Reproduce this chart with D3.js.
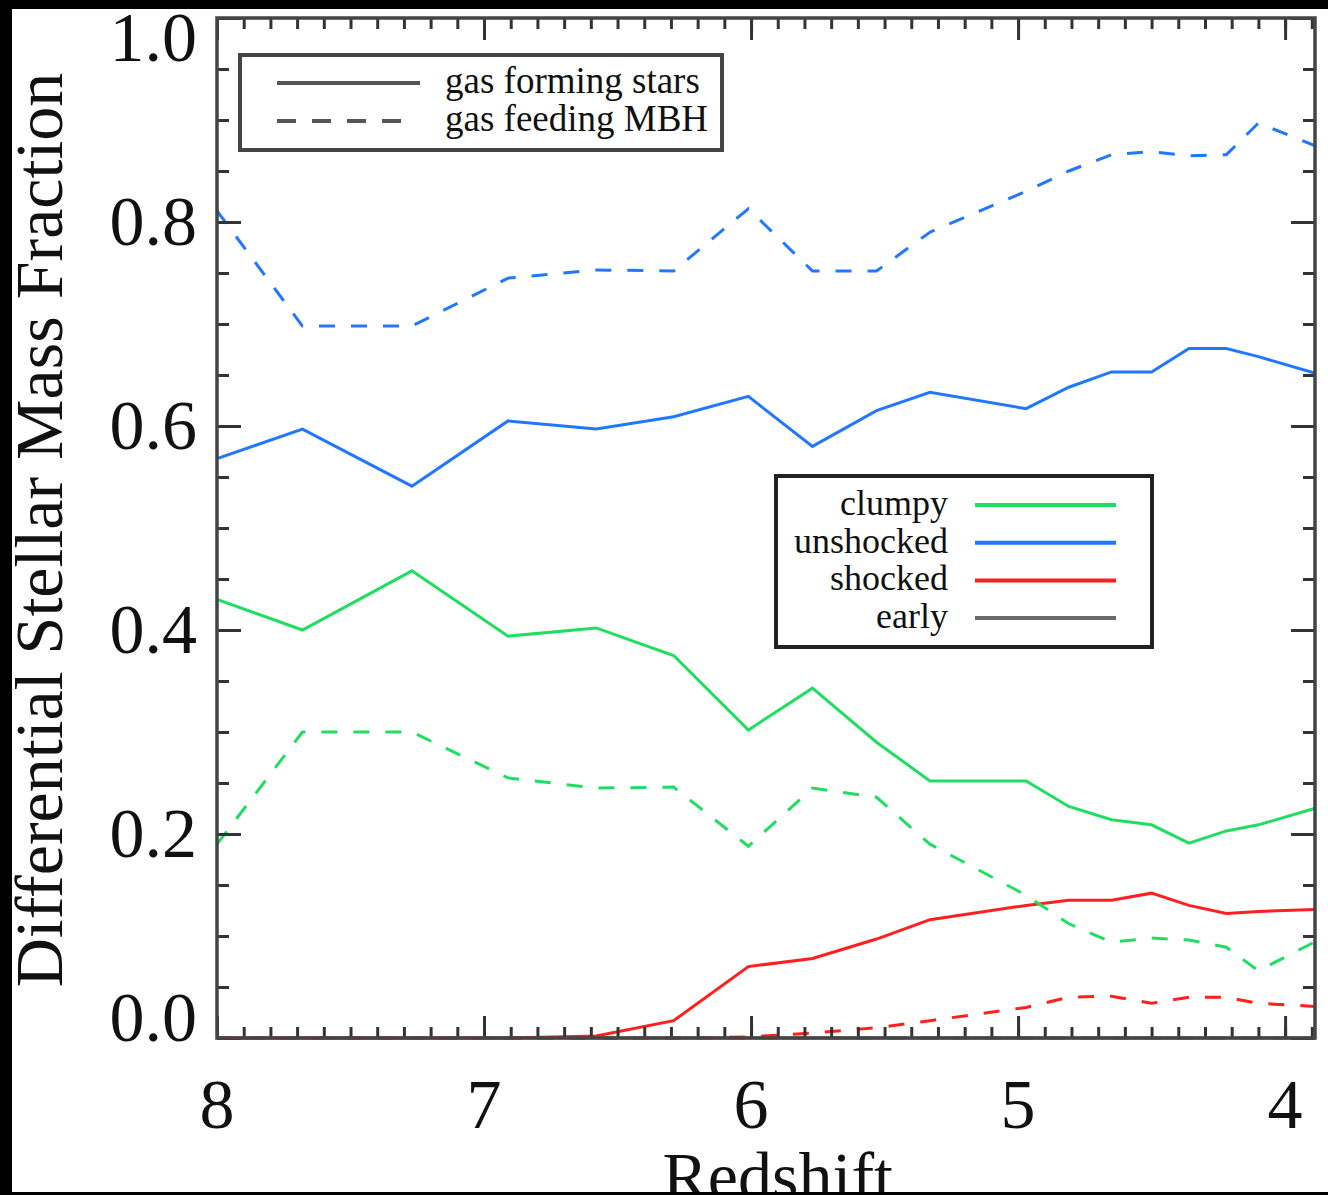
<!DOCTYPE html>
<html>
<head>
<meta charset="utf-8">
<script src="https://cdn.jsdelivr.net/npm/d3@7"></script>
<style>
    html, body { margin: 0; padding: 0; background: #000; }
    svg { display: block; }
    text { font-family: "Liberation Serif", "DejaVu Serif", serif; fill: #111; }
</style>
</head>
<body>
<div id="chart"></div>
<script>
// redshift of each snapshot
var redshift = [8.0, 7.68, 7.27, 6.91, 6.58, 6.29, 6.01, 5.77, 5.53, 5.33, 4.97, 4.81, 4.65, 4.50, 4.36, 4.22, 4.10, 3.89];

var clumpyStars    = [0.430, 0.400, 0.458, 0.394, 0.402, 0.375, 0.302, 0.343, 0.290, 0.252, 0.252, 0.227, 0.214, 0.209, 0.191, 0.203, 0.209, 0.225];
var clumpyMBH      = [0.190, 0.300, 0.300, 0.255, 0.245, 0.246, 0.188, 0.245, 0.236, 0.190, 0.140, 0.112, 0.094, 0.098, 0.096, 0.089, 0.066, 0.094];
var unshockedStars = [0.568, 0.597, 0.541, 0.605, 0.597, 0.609, 0.629, 0.580, 0.615, 0.633, 0.617, 0.638, 0.653, 0.653, 0.676, 0.676, 0.668, 0.652];
var unshockedMBH   = [0.811, 0.698, 0.698, 0.745, 0.753, 0.752, 0.813, 0.752, 0.752, 0.790, 0.830, 0.850, 0.866, 0.869, 0.865, 0.866, 0.897, 0.875];
var shockedStars   = [0, 0, 0, 0, 0.002, 0.017, 0.070, 0.078, 0.097, 0.116, 0.130, 0.135, 0.135, 0.142, 0.130, 0.122, 0.124, 0.126];
var shockedMBH     = [0, 0, 0, 0, 0, 0, 0.001, 0.005, 0.010, 0.017, 0.030, 0.040, 0.041, 0.034, 0.040, 0.040, 0.034, 0.031];
var earlyStars     = [0, 0, 0, 0, 0, 0, 0, 0, 0, 0, 0, 0, 0, 0, 0, 0, 0, 0];
var earlyMBH       = [0, 0, 0, 0, 0, 0, 0, 0, 0, 0, 0, 0, 0, 0, 0, 0, 0, 0];

var components = ["clumpy", "unshocked", "shocked", "early"];
var colours = {clumpy: "#20de62", unshocked: "#2277ff", shocked: "#ff1f1f", early: "#6a6a6a"};
var gasKinds = ["gas forming stars", "gas feeding MBH"];

var xMajor = [8, 7, 6, 5, 4];
var yMajor = [0.0, 0.2, 0.4, 0.6, 0.8, 1.0];
var xLabel = "Redshift";
var yLabel = "Differential Stellar Mass Fraction";

var W = 1328, H = 1195;
var margin = {top: 18, left: 217, right: 13, bottom: 157};
var width = W - margin.left - margin.right,
    height = H - margin.top - margin.bottom;

var svg = d3.select("#chart")
        .append("svg")
        .attr("width", W)
        .attr("height", H);

svg.append("rect")
        .attr("width", W).attr("height", H)
        .attr("fill", "white");

var g = svg.append("g")
        .attr("transform", "translate(" + margin.left + "," + margin.top + ")");

var x = d3.scaleLinear().domain([8, 3.888]).range([0, width]);
var y = d3.scaleLinear().domain([0, 1]).range([height, 0]);

var xMinor = d3.range(80, 38, -1).map(function(d){ return d / 10; });
var yMinor = d3.range(0, 21).map(function(d){ return d / 20; });

var series = [
    {name: "early", values: earlyStars, dashed: false},
    {name: "early", values: earlyMBH, dashed: true},
    {name: "shocked", values: shockedStars, dashed: false},
    {name: "shocked", values: shockedMBH, dashed: true},
    {name: "unshocked", values: unshockedStars, dashed: false},
    {name: "unshocked", values: unshockedMBH, dashed: true},
    {name: "clumpy", values: clumpyStars, dashed: false},
    {name: "clumpy", values: clumpyMBH, dashed: true}
];

var line = d3.line()
        .x(function(d, i){ return x(redshift[i]); })
        .y(function(d){ return y(d); });

g.selectAll("path.series")
        .data(series)
        .enter()
        .append("path")
        .attr("class", "series")
        .attr("d", function(d){ return line(d.values); })
        .attr("fill", "none")
        .attr("stroke", function(d){ return colours[d.name]; })
        .attr("stroke-width", 3)
        .attr("stroke-dasharray", function(d){ return d.dashed ? "16,16" : null; });

// axes: ticks point inward on all four sides
function styleAxis(sel){
    sel.select(".domain").remove();
    sel.selectAll("line").attr("stroke", "#333").attr("stroke-width", 3);
    sel.selectAll("text").remove();
}

g.append("g").attr("transform", "translate(0," + height + ")")
        .call(d3.axisBottom(x).tickValues(xMinor).tickSize(-11)).call(styleAxis);
g.append("g").attr("transform", "translate(0," + height + ")")
        .call(d3.axisBottom(x).tickValues(xMajor).tickSize(-22)).call(styleAxis);
g.append("g")
        .call(d3.axisTop(x).tickValues(xMinor).tickSize(-11)).call(styleAxis);
g.append("g")
        .call(d3.axisTop(x).tickValues(xMajor).tickSize(-22)).call(styleAxis);
g.append("g")
        .call(d3.axisLeft(y).tickValues(yMinor).tickSize(-12)).call(styleAxis);
g.append("g")
        .call(d3.axisLeft(y).tickValues(yMajor).tickSize(-24)).call(styleAxis);
g.append("g").attr("transform", "translate(" + width + ",0)")
        .call(d3.axisRight(y).tickValues(yMinor).tickSize(-12)).call(styleAxis);
g.append("g").attr("transform", "translate(" + width + ",0)")
        .call(d3.axisRight(y).tickValues(yMajor).tickSize(-24)).call(styleAxis);

g.append("rect")
        .attr("width", width).attr("height", height)
        .attr("fill", "none")
        .attr("stroke", "#444")
        .attr("stroke-width", 3.5);

// tick labels
g.selectAll("text.xtick")
        .data(xMajor)
        .enter()
        .append("text")
        .attr("class", "xtick")
        .attr("x", function(d){ return x(d); })
        .attr("y", height + 90)
        .attr("text-anchor", "middle")
        .attr("font-size", 70)
        .text(function(d){ return d; });

g.selectAll("text.ytick")
        .data(yMajor)
        .enter()
        .append("text")
        .attr("class", "ytick")
        .attr("x", -20)
        .attr("y", function(d){ return y(d); })
        .attr("dy", function(d){ return d === 1 ? 43 : (d === 0 ? 3 : 23); })
        .attr("text-anchor", "end")
        .attr("font-size", 70)
        .text(function(d){ return d3.format(".1f")(d); });

// axis titles
svg.append("text")
        .attr("transform", "translate(62," + (margin.top + height / 2 + 2) + ") rotate(-90)")
        .attr("text-anchor", "middle")
        .attr("font-size", 68)
        .text(yLabel);

svg.append("text")
        .attr("x", margin.left + x(5.9))
        .attr("y", H + 4)
        .attr("text-anchor", "middle")
        .attr("font-size", 68)
        .text(xLabel);

// legend for line style
var leg1 = g.append("g").attr("transform", "translate(23,37)");
leg1.append("rect")
        .attr("width", 482).attr("height", 95)
        .attr("fill", "white")
        .attr("stroke", "#444")
        .attr("stroke-width", 4);
leg1.selectAll("line")
        .data(gasKinds)
        .enter()
        .append("line")
        .attr("x1", 37).attr("x2", function(d, i){ return i ? 166 : 180; })
        .attr("y1", function(d, i){ return 28 + i * 38; })
        .attr("y2", function(d, i){ return 28 + i * 38; })
        .attr("stroke", "#555")
        .attr("stroke-width", 4)
        .attr("stroke-dasharray", function(d, i){ return i ? "19,16" : null; });
leg1.selectAll("text")
        .data(gasKinds)
        .enter()
        .append("text")
        .attr("x", 205)
        .attr("y", function(d, i){ return 38 + i * 38; })
        .attr("font-size", 37)
        .text(function(d){ return d; });

// legend for components
var leg2 = g.append("g").attr("transform", "translate(559,458)");
leg2.append("rect")
        .attr("width", 376).attr("height", 171)
        .attr("fill", "white")
        .attr("stroke", "#222")
        .attr("stroke-width", 4);
leg2.selectAll("line")
        .data(components)
        .enter()
        .append("line")
        .attr("x1", 199).attr("x2", 340)
        .attr("y1", function(d, i){ return 29 + i * 37.7; })
        .attr("y2", function(d, i){ return 29 + i * 37.7; })
        .attr("stroke", function(d){ return colours[d]; })
        .attr("stroke-width", 4);
leg2.selectAll("text")
        .data(components)
        .enter()
        .append("text")
        .attr("x", 172)
        .attr("y", function(d, i){ return 39 + i * 37.7; })
        .attr("text-anchor", "end")
        .attr("font-size", 36)
        .text(function(d){ return d; });

// black frame around the picture
svg.append("rect").attr("x", 0).attr("y", 0).attr("width", W).attr("height", 9).attr("fill", "#000");
svg.append("rect").attr("x", 0).attr("y", 0).attr("width", 12).attr("height", H).attr("fill", "#000");
svg.append("rect").attr("x", 0).attr("y", H - 3).attr("width", W).attr("height", 3).attr("fill", "#000");
</script>
</body>
</html>
